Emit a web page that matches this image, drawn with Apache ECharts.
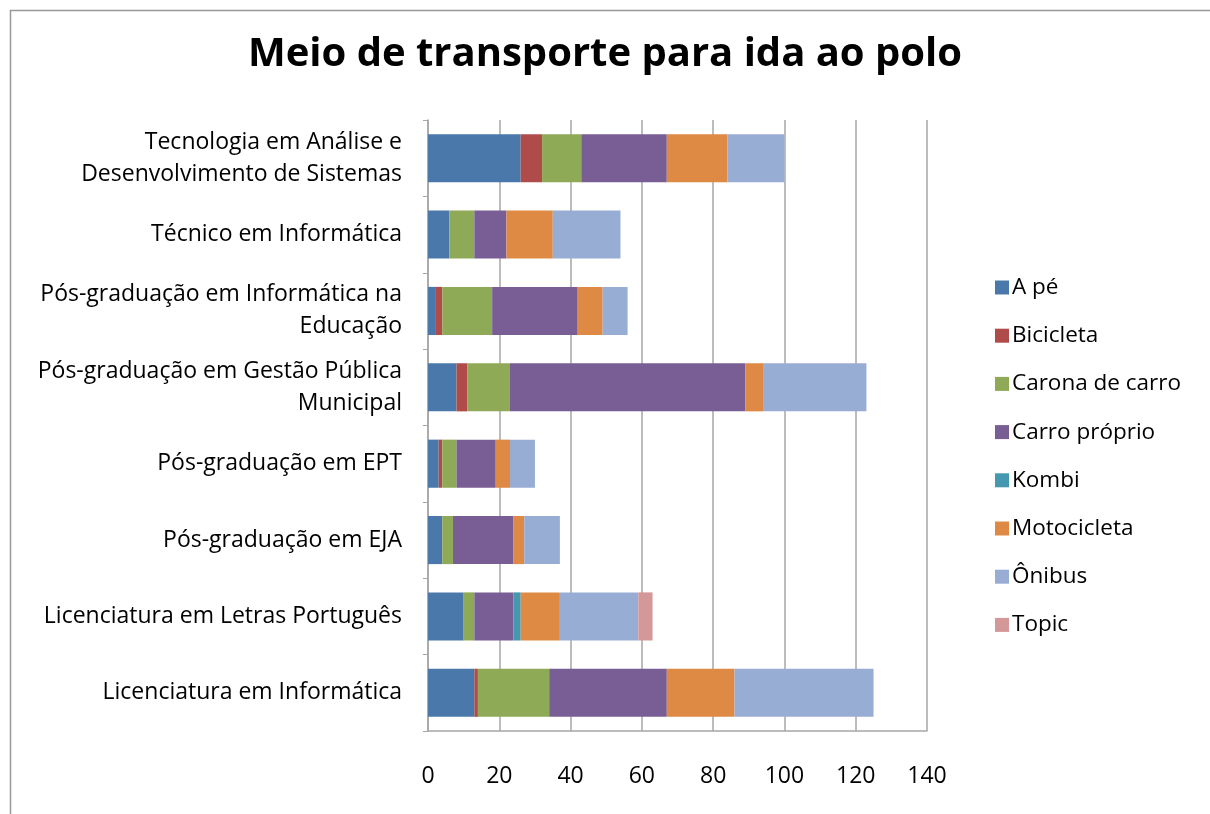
<!DOCTYPE html>
<html>
<head>
<meta charset="utf-8">
<script src="https://cdn.jsdelivr.net/npm/echarts@6/dist/echarts.min.js"></script>
<style>
    html, body { margin: 0; padding: 0; background: #fff; }
    #char { width: 1210px; height: 814px; }
</style>
</head>
<body>
<div id="char"></div>
<script>
// cursos, de baixo para cima
var cursos = [
    'Licenciatura em Informática',
    'Licenciatura em Letras Português',
    'Pós-graduação em EJA',
    'Pós-graduação em EPT',
    'Pós-graduação em Gestão Pública\nMunicipal',
    'Pós-graduação em Informática na\nEducação',
    'Técnico em Informática',
    'Tecnologia em Análise e\nDesenvolvimento de Sistemas'
];
var meios = ['A pé', 'Bicicleta', 'Carona de carro', 'Carro próprio', 'Kombi', 'Motocicleta', 'Ônibus', 'Topic'];

var aPe          = [13, 10, 4, 3, 8, 2, 6, 26];
var bicicleta    = [1, 0, 0, 1, 3, 2, 0, 6];
var caronaCarro  = [20, 3, 3, 4, 12, 14, 7, 11];
var carroProprio = [33, 11, 17, 11, 66, 24, 9, 24];
var kombi        = [0, 2, 0, 0, 0, 0, 0, 0];
var motocicleta  = [19, 11, 3, 4, 5, 7, 13, 17];
var onibus       = [39, 22, 10, 7, 29, 7, 19, 16];
var topic        = [0, 4, 0, 0, 0, 0, 0, 0];

var xTicks = [0, 20, 40, 60, 80, 100, 120, 140];

var valores = [aPe, bicicleta, caronaCarro, carroProprio, kombi, motocicleta, onibus, topic];
var cores = ['#4A78AA', '#AF4C4A', '#8FAA56', '#785E94', '#4499B0', '#DE8A44', '#98ADD4', '#D59898'];

var fonte = '"Open Sans", Lato, sans-serif';

var myChart = echarts.init(document.getElementById('char'));

var series = [];
for (var i = 0; i < meios.length; i++) {
    series.push({
        name: meios[i],
        type: 'bar',
        stack: 'total',
        barWidth: '63%',
        data: valores[i],
        itemStyle: { color: cores[i] }
    });
}

var option = {
    animation: false,
    color: cores,
    title: {
        text: 'Meio de transporte para ida ao polo',
        left: 'center',
        top: 30,
        textStyle: {
            fontFamily: fonte,
            fontSize: 40,
            fontWeight: 'bold',
            color: '#000'
        }
    },
    graphic: [{
        type: 'rect',
        left: 8,
        top: 8,
        shape: { width: 1230, height: 840 },
        style: { fill: 'none', stroke: '#999', lineWidth: 1.5 }
    }],
    legend: {
        orient: 'vertical',
        left: 990,
        top: 271,
        itemWidth: 14,
        itemHeight: 14,
        itemGap: 25.2,
        icon: 'rect',
        data: meios,
        textStyle: {
            fontFamily: fonte,
            fontSize: 22.5,
            color: '#000',
            padding: [0, 0, 0, -2]
        }
    },
    grid: {
        left: 428,
        right: 283,
        top: 120,
        bottom: 83,
        containLabel: false
    },
    xAxis: {
        type: 'value',
        min: 0,
        max: 140,
        interval: 20,
        axisLine: { show: true, lineStyle: { color: '#A6A6A6', width: 1.5 } },
        axisTick: { show: false },
        splitLine: { show: true, lineStyle: { color: '#A6A6A6', width: 1.5 } },
        axisLabel: {
            margin: 34,
            fontFamily: fonte,
            fontSize: 23,
            color: '#000',
            formatter: function (v) { return xTicks.indexOf(v) >= 0 ? String(v) : ''; }
        }
    },
    yAxis: {
        type: 'category',
        data: cursos,
        axisLine: { show: true, lineStyle: { color: '#A6A6A6', width: 1.5 } },
        axisTick: { show: true, length: 5, lineStyle: { color: '#A6A6A6' } },
        axisLabel: {
            margin: 26,
            fontFamily: fonte,
            fontSize: 23,
            lineHeight: 32,
            color: '#000'
        }
    },
    series: series
};

myChart.setOption(option);
</script>
</body>
</html>
